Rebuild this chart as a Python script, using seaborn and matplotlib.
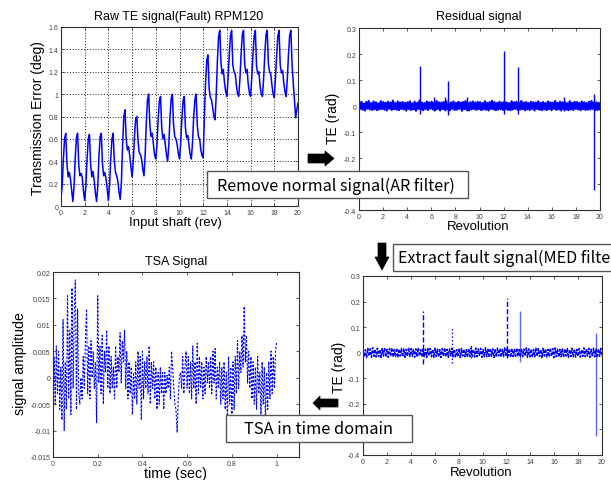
import numpy as np
import matplotlib
matplotlib.use("Agg")
import matplotlib.pyplot as plt
import seaborn as sns
from matplotlib.patches import Polygon, Rectangle
from matplotlib.ticker import MultipleLocator, FuncFormatter

# ---------------- data ----------------
# Raw transmission error (deg), 10 samples per input-shaft revolution, 0..20 rev
raw_te = [
    0.07, 0.18, 0.42, 0.60, 0.65, 0.38, 0.26, 0.30, 0.24, 0.14,
    0.04, 0.17, 0.43, 0.61, 0.65, 0.36, 0.27, 0.29, 0.25, 0.13,
    0.05, 0.18, 0.42, 0.60, 0.64, 0.37, 0.26, 0.31, 0.23, 0.12,
    0.04, 0.17, 0.44, 0.62, 0.65, 0.38, 0.27, 0.30, 0.24, 0.15,
    0.05, 0.19, 0.43, 0.60, 0.65, 0.40, 0.30, 0.27, 0.22, 0.12,
    0.06, 0.22, 0.55, 0.80, 0.86, 0.60, 0.50, 0.53, 0.45, 0.35,
    0.26, 0.40, 0.62, 0.78, 0.80, 0.58, 0.48, 0.46, 0.42, 0.33,
    0.27, 0.45, 0.75, 0.95, 1.00, 0.72, 0.62, 0.65, 0.55, 0.45,
    0.42, 0.55, 0.78, 0.94, 0.98, 0.70, 0.60, 0.64, 0.55, 0.46,
    0.40, 0.55, 0.80, 0.96, 1.00, 0.72, 0.62, 0.60, 0.55, 0.47,
    0.42, 0.56, 0.78, 0.94, 0.98, 0.70, 0.61, 0.63, 0.54, 0.46,
    0.42, 0.57, 0.80, 0.95, 1.00, 0.72, 0.62, 0.60, 0.50, 0.45,
    0.43, 0.80, 1.10, 1.30, 1.35, 1.05, 0.97, 0.95, 0.88, 0.80,
    0.77, 1.00, 1.30, 1.52, 1.57, 1.28, 1.18, 1.22, 1.10, 1.02,
    0.98, 1.15, 1.35, 1.52, 1.57, 1.26, 1.20, 1.18, 1.08, 1.00,
    0.98, 1.14, 1.36, 1.53, 1.57, 1.27, 1.19, 1.22, 1.09, 1.01,
    0.98, 1.15, 1.35, 1.52, 1.57, 1.25, 1.18, 1.20, 1.07, 1.00,
    0.98, 1.14, 1.36, 1.53, 1.57, 1.27, 1.20, 1.18, 1.08, 1.00,
    0.97, 1.15, 1.35, 1.52, 1.57, 1.26, 1.19, 1.21, 1.10, 1.02,
    0.98, 1.14, 1.36, 1.53, 1.57, 1.26, 1.10, 0.95, 0.79, 0.86,
    0.92,
]

# AR-filter residual (rad): background noise, 0..20 rev
residual_noise = [
    0.013, -0.011, 0.016, -0.014, 0.009, -0.017, 0.015, -0.010, 0.019, -0.013, 0.011, -0.015, 0.017, -0.012, 0.014, -0.016, 0.010, -0.013, 0.018, -0.011,
    0.015, -0.014, 0.012, -0.017, 0.016, -0.010, 0.013, -0.015, 0.020, -0.012, 0.011, -0.014, 0.017, -0.016, 0.013, -0.011, 0.015, -0.013, 0.012, -0.017,
    0.014, -0.012, 0.018, -0.015, 0.010, -0.013, 0.016, -0.018, 0.012, -0.011, 0.021, -0.014, 0.013, -0.016, 0.011, -0.012, 0.017, -0.015, 0.014, -0.010,
    0.016, -0.013, 0.012, -0.016, 0.019, -0.011, 0.014, -0.017, 0.013, -0.012, 0.015, -0.014, 0.018, -0.013, 0.010, -0.016, 0.014, -0.012, 0.017, -0.015,
    0.012, -0.014, 0.016, -0.011, 0.013, -0.018, 0.015, -0.012, 0.019, -0.014, 0.011, -0.016, 0.014, -0.013, 0.017, -0.011, 0.013, -0.015, 0.016, -0.012,
    0.014, -0.016, 0.011, -0.013, 0.018, -0.014, 0.012, -0.017, 0.015, -0.011, 0.020, -0.013, 0.014, -0.016, 0.012, -0.014, 0.016, -0.012, 0.013, -0.015,
    0.017, -0.012, 0.013, -0.015, 0.011, -0.016, 0.018, -0.013, 0.014, -0.011, 0.016, -0.015, 0.012, -0.014, 0.019, -0.012, 0.013, -0.016, 0.015, -0.013,
    0.011, -0.015, 0.016, -0.012, 0.014, -0.017, 0.013, -0.011, 0.018, -0.014, 0.012, -0.016, 0.015, -0.013, 0.011, -0.015, 0.017, -0.012, 0.014, -0.016,
    0.013, -0.011, 0.019, -0.015, 0.012, -0.013, 0.016, -0.017, 0.014, -0.012, 0.015, -0.014, 0.011, -0.016, 0.018, -0.013, 0.012, -0.015, 0.016, -0.011,
    0.015, -0.013, 0.012, -0.016, 0.017, -0.012, 0.014, -0.015, 0.011, -0.014, 0.016, -0.013, 0.019, -0.012, 0.013, -0.016, 0.014, -0.015, 0.012, -0.014,
]
residual_spike_rev = [5.07, 6.2, 7.1, 7.42, 9.0, 12.02, 13.2, 17.0, 19.53]
residual_spike_hi = [0.152, 0.033, 0.035, 0.097, 0.034, 0.213, 0.149, 0.033, 0.046]
residual_spike_lo = [-0.030, -0.020, -0.020, -0.035, -0.020, -0.030, -0.030, -0.020, -0.322]

# MED-filter output (rad)
med_noise = [
    0.014, -0.016, 0.012, -0.019, 0.017, -0.013, 0.015, -0.018, 0.020, -0.014, 0.013, -0.017, 0.018, -0.015, 0.012, -0.019, 0.016, -0.013, 0.019, -0.016,
    0.013, -0.018, 0.016, -0.014, 0.019, -0.017, 0.012, -0.015, 0.018, -0.019, 0.014, -0.013, 0.017, -0.016, 0.015, -0.018, 0.013, -0.014, 0.020, -0.015,
    0.016, -0.014, 0.013, -0.018, 0.015, -0.016, 0.019, -0.013, 0.012, -0.017, 0.018, -0.015, 0.014, -0.019, 0.016, -0.012, 0.017, -0.016, 0.013, -0.018,
    0.018, -0.015, 0.014, -0.017, 0.012, -0.019, 0.016, -0.014, 0.019, -0.016, 0.013, -0.018, 0.015, -0.013, 0.017, -0.016, 0.014, -0.019, 0.012, -0.015,
    0.015, -0.019, 0.017, -0.013, 0.014, -0.016, 0.012, -0.018, 0.016, -0.015, 0.019, -0.014, 0.013, -0.017, 0.018, -0.016, 0.015, -0.013, 0.017, -0.018,
    0.012, -0.016, 0.019, -0.015, 0.013, -0.018, 0.017, -0.014, 0.015, -0.019, 0.014, -0.016, 0.018, -0.013, 0.016, -0.017, 0.013, -0.015, 0.019, -0.014,
    0.017, -0.013, 0.015, -0.018, 0.016, -0.015, 0.013, -0.019, 0.018, -0.014, 0.012, -0.017, 0.016, -0.016, 0.014, -0.013, 0.019, -0.018, 0.015, -0.016,
    0.014, -0.018, 0.013, -0.016, 0.018, -0.014, 0.016, -0.015, 0.012, -0.019, 0.017, -0.013, 0.015, -0.017, 0.013, -0.016, 0.018, -0.014, 0.016, -0.019,
    0.019, -0.015, 0.014, -0.017, 0.013, -0.016, 0.017, -0.018, 0.015, -0.013, 0.016, -0.019, 0.012, -0.015, 0.018, -0.016, 0.014, -0.017, 0.013, -0.014,
    0.016, -0.017, 0.012, -0.014, 0.019, -0.016, 0.015, -0.013, 0.017, -0.018, 0.014, -0.015, 0.018, -0.016, 0.013, -0.019, 0.015, -0.014, 0.017, -0.016,
]
med_spike_rev = [5.03, 7.41, 9.0, 12.03, 13.15, 19.5]
med_spike_hi = [0.163, 0.100, 0.036, 0.215, 0.163, 0.076]
med_spike_lo = [-0.045, -0.041, -0.020, -0.022, -0.038, -0.325]

# Time-synchronous average over one period (0..1 s)
tsa_signal = [
    -0.007, 0.004, -0.005, 0.006, -0.003, 0.005, -0.006, 0.002, -0.008, 0.011,
    -0.010, 0.003, -0.006, 0.0155, -0.004, 0.009, -0.007, 0.017, -0.002, 0.012,
    0.0185, -0.006, 0.013, -0.003, -0.005, 0.000, -0.004, 0.004, -0.002, 0.007,
    0.013, -0.003, 0.006, -0.004, 0.007, 0.000, 0.005, -0.002, 0.003, -0.0085,
    0.0155, -0.001, 0.006, -0.003, 0.008, -0.005, 0.005, 0.001, 0.009, -0.002,
    0.006, -0.003, 0.004, -0.002, 0.002, -0.004, 0.006, -0.002, 0.004, 0.001,
    0.0085, -0.001, 0.007, 0.003, 0.009, -0.002, 0.005, -0.004, 0.003, -0.003,
    0.002, -0.007, 0.001, -0.004, 0.003, -0.005, 0.005, -0.002, 0.004, -0.008,
    0.005, -0.004, 0.003, -0.002, 0.004, -0.003, 0.006, -0.005, 0.003, -0.002,
    0.003, -0.004, 0.002, -0.006, 0.001, -0.005, 0.002, -0.003, 0.001, -0.006,
    0.001, -0.003, 0.0005, -0.002, 0.002, -0.004, 0.005, 0.002, -0.002, -0.005,
    -0.006, -0.0103, -0.004, 0.000, 0.001, -0.002, 0.004, -0.003, 0.002, 0.005,
    -0.002, 0.004, -0.003, 0.003, -0.004, 0.006, -0.002, 0.003, -0.005, 0.0065,
    -0.003, 0.004, -0.002, 0.003, -0.004, 0.002, -0.003, 0.004, -0.001, 0.003,
    -0.002, 0.004, -0.003, 0.005, -0.001, 0.0055, -0.004, 0.002, -0.002, 0.003,
    -0.005, 0.002, -0.004, 0.003, -0.006, 0.001, -0.008, 0.004, -0.005, 0.002,
    -0.008, 0.003, -0.006, 0.004, -0.003, 0.007, -0.002, 0.005, 0.001, 0.008,
    0.002, 0.0135, 0.003, 0.008, -0.001, 0.005, -0.002, 0.004, -0.004, 0.003,
    -0.005, 0.002, -0.006, 0.004, -0.003, 0.001, -0.007, 0.003, -0.005, 0.002,
    -0.008, 0.001, -0.006, 0.003, -0.004, 0.005, -0.003, 0.004, -0.002, 0.005,
    0.0068,
]

rev_x = np.linspace(0, 20, len(raw_te))
res_x = np.linspace(0, 20, len(residual_noise))
med_x = np.linspace(0, 20, len(med_noise))
tsa_x = np.linspace(0, 1, len(tsa_signal))

# ---------------- style ----------------
sns.set_style("ticks")
plt.rcParams['font.family'] = ['Liberation Sans', 'DejaVu Sans']
BLUE = '#0000ff'
TICK_C = '#404040'

W, H = 611, 481
fig = plt.figure(figsize=(W / 100, H / 100), dpi=100)
fig.patch.set_facecolor('white')


def rect(l, t, r, b):
    return [l / W, 1 - b / H, (r - l) / W, (b - t) / H]


def fxy(x, y):
    return x / W, 1 - y / H


fmt = FuncFormatter(lambda v, p: '%g' % round(v, 6))


def style_axes(ax):
    ax.tick_params(direction='in', length=2.5, width=0.6, labelsize=5,
                   colors=TICK_C, top=True, right=True, pad=2)
    for s in ax.spines.values():
        s.set_linewidth(0.8)
        s.set_color('#303030')
        s.set_visible(True)
    ax.xaxis.set_major_formatter(fmt)
    ax.yaxis.set_major_formatter(fmt)


def ftext(x, y, s, size, rot=0, ha='center', family=None, z=3):
    fig.text(*fxy(x, y), s, fontsize=size, rotation=rot, ha=ha, va='center',
             color='black', family=family, zorder=z)


# --- raw TE ---
ax1 = fig.add_axes(rect(61, 28, 298, 207))
sns.lineplot(x=rev_x, y=raw_te, ax=ax1, color=BLUE, lw=1.1, estimator=None, sort=False)
ax1.set_xlim(0, 20)
ax1.set_ylim(0, 1.6)
ax1.xaxis.set_major_locator(MultipleLocator(2))
ax1.yaxis.set_major_locator(MultipleLocator(0.2))
ax1.grid(True, color='black', linestyle=(0, (1.2, 2.2)), linewidth=0.6)
style_axes(ax1)

# --- residual ---
ax2 = fig.add_axes(rect(359, 29, 600, 211))
sns.lineplot(x=res_x, y=residual_noise, ax=ax2, color=BLUE, lw=1.6, estimator=None, sort=False)
ax2.vlines(residual_spike_rev, residual_spike_lo, residual_spike_hi, colors=BLUE, lw=1.0)
ax2.set_xlim(0, 20)
ax2.set_ylim(-0.4, 0.3)
ax2.xaxis.set_major_locator(MultipleLocator(2))
ax2.yaxis.set_major_locator(MultipleLocator(0.1))
style_axes(ax2)

# --- TSA ---
ax3 = fig.add_axes(rect(53, 273, 299, 458))
sns.lineplot(x=tsa_x, y=tsa_signal, ax=ax3, color=BLUE, lw=0.8, estimator=None, sort=False)
ax3.lines[-1].set_dashes((2.0, 1.5))
ax3.set_xlim(0, 1.1)
ax3.set_ylim(-0.015, 0.02)
ax3.xaxis.set_major_locator(MultipleLocator(0.2))
ax3.yaxis.set_major_locator(MultipleLocator(0.005))
style_axes(ax3)
ax3.set_xticks([0, 0.2, 0.4, 0.6, 0.8, 1.0])

# --- MED output ---
ax4 = fig.add_axes(rect(363, 277, 602, 456))
sns.lineplot(x=med_x, y=med_noise, ax=ax4, color=BLUE, lw=1.1, estimator=None, sort=False)
ax4.lines[-1].set_dashes((2.0, 1.0))
spike_styles = ['--', ':', ':', '--', '-', '-']
for xs, lo, hi, ls in zip(med_spike_rev, med_spike_lo, med_spike_hi, spike_styles):
    ax4.vlines(xs, lo, hi, colors=BLUE, lw=1.0, linestyles=ls,
               alpha=0.6 if ls == '-' else 1.0)
ax4.set_xlim(0, 20)
ax4.set_ylim(-0.4, 0.3)
ax4.xaxis.set_major_locator(MultipleLocator(2))
ax4.yaxis.set_major_locator(MultipleLocator(0.1))
style_axes(ax4)

# ---------------- titles and labels ----------------
ftext(179, 17, 'Raw TE signal(Fault) RPM120', 9)
ftext(479, 17, 'Residual signal', 9)
ftext(176, 262, 'TSA Signal', 9)

ftext(38, 118, 'Transmission Error (deg)', 10, rot=90)
ftext(175, 223, 'Input shaft (rev)', 9.5)
ftext(333, 118, 'TE (rad)', 10, rot=90)
ftext(478, 227, 'Revolution', 9.5)
ftext(20, 364, 'signal amplitude', 10.2, rot=90)
ftext(176, 474.5, 'time (sec)', 10.3)
ftext(339, 367, 'TE (rad)', 10, rot=90)
ftext(481, 473, 'Revolution', 9.5)

# ---------------- process boxes ----------------
BOX_FONT = ['Noto Sans CJK KR', 'DejaVu Sans']
for (l, t, r, b) in [(207, 172, 468, 199), (393, 245, 640, 272), (226, 416, 412, 443)]:
    fig.add_artist(Rectangle(fxy(l, b), (r - l) / W, (b - t) / H, transform=fig.transFigure,
                             facecolor='white', edgecolor='#555555', lw=1.0, zorder=5))
ftext(336, 186, 'Remove normal signal(AR filter)', 11.6, family=BOX_FONT, z=6)
ftext(398, 258, 'Extract fault signal(MED filter)', 11.6, ha='left', family=BOX_FONT, z=6)
ftext(318, 430, 'TSA in time domain', 11.8, family=BOX_FONT, z=6)


# ---------------- flow arrows ----------------
def arrow(pts):
    fig.add_artist(Polygon([fxy(x, y) for x, y in pts], closed=True, transform=fig.transFigure,
                           facecolor='black', edgecolor='black', lw=0.5, zorder=6))


arrow([(308, 155), (325, 155), (325, 152), (334, 159.5), (325, 167), (325, 164), (308, 164)])
arrow([(378, 244), (386, 244), (386, 258), (389, 258), (382, 271), (375, 258), (378, 258)])
arrow([(338, 400), (320, 400), (320, 397), (313, 404), (320, 411), (320, 408), (338, 408)])

fig.savefig('out.png', dpi=100, facecolor='white')
